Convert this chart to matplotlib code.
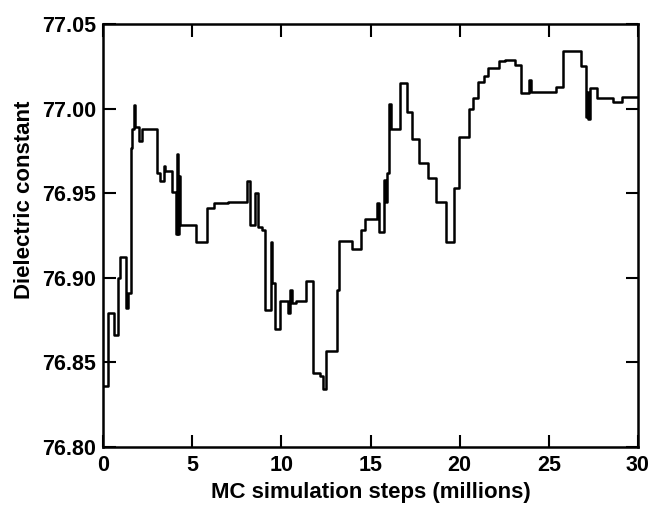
import matplotlib
matplotlib.use("Agg")
import matplotlib.pyplot as plt

# MC steps (millions) where the value changes, and the value from there on
steps_m = [0, 0.3, 0.6, 0.85, 0.95, 1.3, 1.42, 1.55, 1.65, 1.72, 1.82, 2.0, 2.2,
           3.0, 3.2, 3.4, 3.45, 3.85, 4.1, 4.15, 4.2, 4.25, 4.3, 5.2, 5.85, 6.2,
           7.0, 8.1, 8.25, 8.55, 8.7, 8.9, 9.1, 9.4, 9.5, 9.65, 9.95, 10.35, 10.5,
           10.6, 10.8, 11.4, 11.75, 12.15, 12.35, 12.5, 13.1, 13.25, 13.95, 14.45,
           14.7, 15.35, 15.45, 15.75, 15.85, 15.95, 16.05, 16.15, 16.65, 17.05,
           17.3, 17.7, 18.25, 18.7, 19.25, 19.7, 19.95, 20.55, 20.75, 21.05, 21.35,
           21.6, 22.2, 22.55, 23.1, 23.45, 23.9, 24.0, 25.4, 25.8, 26.8, 27.1,
           27.15, 27.2, 27.3, 27.7, 28.6, 29.1, 30]
dielectric = [76.836, 76.879, 76.866, 76.900, 76.912, 76.882, 76.891, 76.977, 76.988,
              77.002, 76.989, 76.981, 76.988, 76.962, 76.957, 76.966, 76.963, 76.951,
              76.926, 76.973, 76.926, 76.960, 76.931, 76.921, 76.941, 76.944, 76.945,
              76.957, 76.931, 76.950, 76.930, 76.928, 76.881, 76.921, 76.897, 76.870,
              76.886, 76.879, 76.893, 76.885, 76.886, 76.898, 76.844, 76.842, 76.834,
              76.857, 76.893, 76.922, 76.917, 76.928, 76.935, 76.944, 76.927, 76.958,
              76.945, 76.962, 77.003, 76.988, 77.015, 76.998, 76.982, 76.968, 76.959,
              76.945, 76.921, 76.953, 76.983, 77.000, 77.006, 77.016, 77.019, 77.024,
              77.028, 77.029, 77.026, 77.009, 77.017, 77.010, 77.013, 77.034, 77.025,
              76.995, 77.010, 76.994, 77.012, 77.006, 77.004, 77.007, 77.007]

x_ticks = [0, 5, 10, 15, 20, 25, 30]
y_ticks = [76.80, 76.85, 76.90, 76.95, 77.00, 77.05]

plt.rcParams['font.family'] = ['Liberation Sans', 'DejaVu Sans']
plt.rcParams['font.weight'] = 'bold'

fig = plt.figure(figsize=(6.5, 5.07), dpi=100)
ax = fig.add_axes([0.1585, 0.1183, 0.823, 0.8344])

ax.plot(steps_m, dielectric, drawstyle='steps-post', color='black', lw=1.8)

ax.set_xlim(0, 30)
ax.set_ylim(76.80, 77.05)
ax.set_xticks(x_ticks)
ax.set_yticks(y_ticks)
ax.set_yticklabels(["%.2f" % v for v in y_ticks])
ax.tick_params(direction='in', length=9, width=1.5, top=True, right=True,
               labelsize=15.5)
ax.tick_params(axis='x', pad=6)
ax.tick_params(axis='y', pad=5)
for s in ax.spines.values():
    s.set_linewidth(1.8)

ax.set_xlabel("MC simulation steps (millions)", fontsize=16, fontweight='bold', labelpad=4)
ax.set_ylabel("Dielectric constant", fontsize=16, fontweight='bold')
ax.yaxis.set_label_coords(-0.128, 0.585)

fig.savefig("out.png", dpi=100)
